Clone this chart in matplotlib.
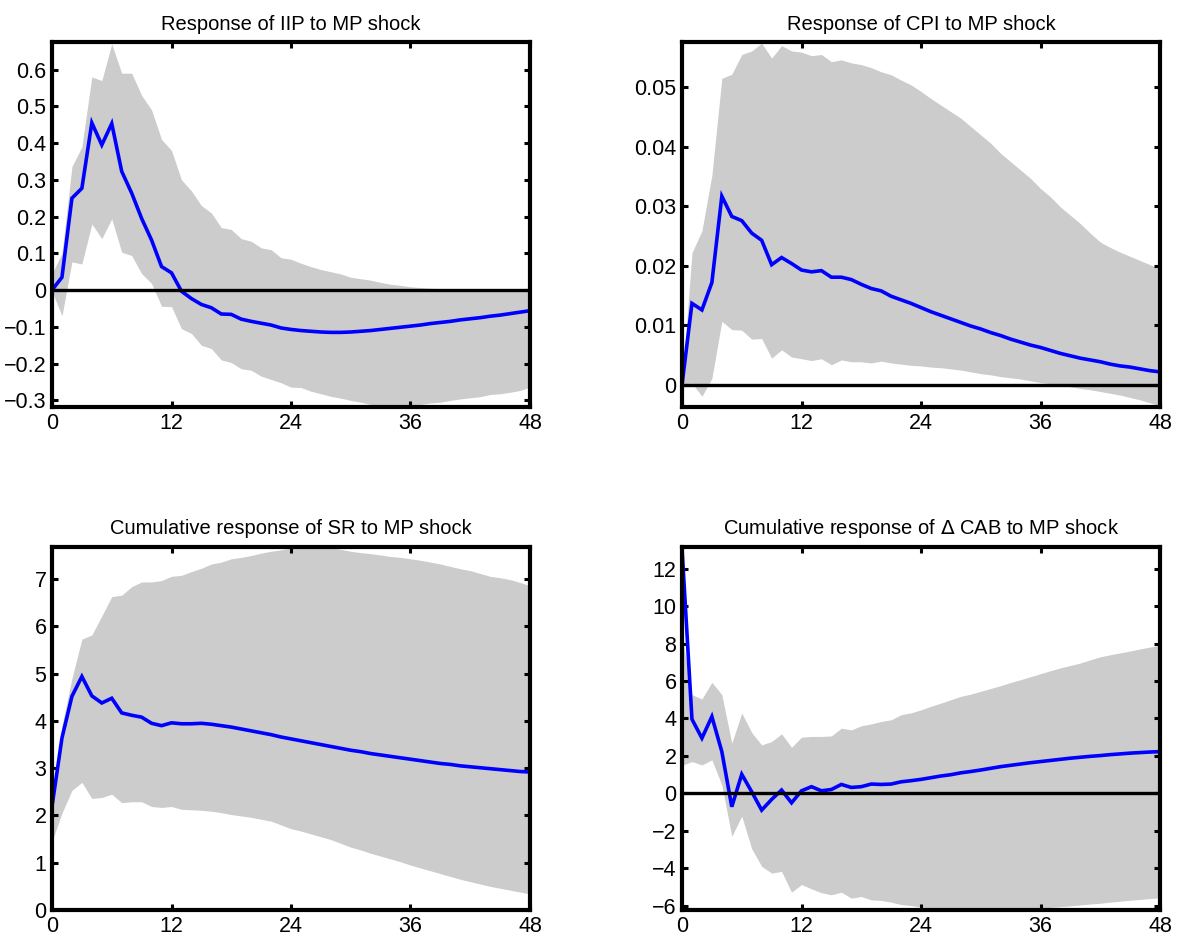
import matplotlib
matplotlib.use('AGG')
import matplotlib.pyplot as plt
from matplotlib.ticker import FuncFormatter

plt.rcParams['font.family'] = ['Liberation Sans', 'DejaVu Sans']

months = list(range(49))

# Response of IIP to MP shock
iip_mid = [0, 0.035, 0.25, 0.277, 0.455, 0.395, 0.453, 0.323, 0.264, 0.195,
           0.136, 0.064, 0.047, -0.003, -0.023, -0.039, -0.048, -0.065, -0.066, -0.079,
           -0.085, -0.09, -0.095, -0.103, -0.107, -0.110, -0.112, -0.114, -0.115, -0.115,
           -0.114, -0.112, -0.110, -0.107, -0.104, -0.101, -0.098, -0.095, -0.091, -0.088,
           -0.085, -0.081, -0.078, -0.075, -0.071, -0.068, -0.064, -0.060, -0.056]
iip_up = [0.045, 0.1, 0.336, 0.39, 0.58, 0.57, 0.67, 0.59, 0.59, 0.53,
          0.49, 0.41, 0.38, 0.30, 0.27, 0.23, 0.21, 0.17, 0.165, 0.14,
          0.133, 0.115, 0.11, 0.088, 0.084, 0.073, 0.064, 0.056, 0.05, 0.044,
          0.035, 0.031, 0.027, 0.021, 0.016, 0.013, 0.009, 0.007, 0.005, 0.004,
          0.002, 0.001, 0.001, 0.0, 0.0, -0.001, -0.001, -0.002, -0.002]
iip_lo = [-0.003, -0.07, 0.077, 0.071, 0.18, 0.14, 0.194, 0.103, 0.094, 0.045,
          0.018, -0.044, -0.045, -0.105, -0.118, -0.15, -0.159, -0.19, -0.197, -0.214,
          -0.218, -0.234, -0.243, -0.252, -0.264, -0.265, -0.275, -0.282, -0.289, -0.294,
          -0.3, -0.305, -0.311, -0.312, -0.315, -0.316, -0.315, -0.311, -0.307, -0.305,
          -0.3, -0.296, -0.293, -0.29, -0.284, -0.282, -0.278, -0.273, -0.264]

# Response of CPI to MP shock
cpi_mid = [0, 0.0137, 0.0126, 0.0172, 0.0317, 0.0283, 0.0276, 0.0255, 0.0243, 0.0202,
           0.0214, 0.0204, 0.0193, 0.019, 0.0192, 0.0181, 0.0181, 0.0177, 0.0169, 0.0162,
           0.0158, 0.0149, 0.0143, 0.0137, 0.0130, 0.0123, 0.0117, 0.0111, 0.0105, 0.0099,
           0.0094, 0.0088, 0.0083, 0.0077, 0.0072, 0.0067, 0.0063, 0.0058, 0.0053, 0.0049,
           0.0045, 0.0042, 0.0039, 0.0035, 0.0032, 0.0030, 0.0027, 0.0024, 0.0022]
cpi_up = [0.0, 0.0222, 0.0259, 0.0352, 0.0515, 0.0522, 0.0555, 0.0561, 0.0574, 0.0549,
          0.057, 0.0561, 0.0559, 0.0553, 0.0555, 0.0543, 0.0546, 0.0541, 0.0538, 0.0533,
          0.0526, 0.0521, 0.0512, 0.0504, 0.0493, 0.0481, 0.047, 0.0459, 0.0448, 0.0434,
          0.042, 0.0406, 0.0389, 0.0375, 0.0361, 0.0347, 0.033, 0.0316, 0.0299, 0.0285,
          0.0271, 0.0255, 0.024, 0.0231, 0.0223, 0.0216, 0.0209, 0.0202, 0.0195]
cpi_lo = [0.0, 0.0003, -0.0019, 0.0011, 0.0107, 0.0093, 0.0092, 0.0077, 0.0078, 0.0045,
          0.0059, 0.0047, 0.0044, 0.0041, 0.0044, 0.0034, 0.0042, 0.0039, 0.0039, 0.0037,
          0.0040, 0.0037, 0.0035, 0.0033, 0.0032, 0.0030, 0.0029, 0.0027, 0.0025, 0.0022,
          0.0019, 0.0017, 0.0014, 0.0012, 0.0010, 0.0007, 0.0004, 0.0002, 0.0, -0.0003,
          -0.0006, -0.0008, -0.0011, -0.0014, -0.0017, -0.0021, -0.0025, -0.003, -0.0035]

# Cumulative response of SR to MP shock
sr_mid = [2.19, 3.64, 4.52, 4.94, 4.53, 4.38, 4.48, 4.17, 4.12, 4.08,
          3.95, 3.90, 3.96, 3.94, 3.94, 3.95, 3.93, 3.90, 3.87, 3.83,
          3.79, 3.75, 3.71, 3.66, 3.62, 3.58, 3.54, 3.50, 3.46, 3.42,
          3.38, 3.35, 3.31, 3.28, 3.25, 3.22, 3.19, 3.16, 3.13, 3.10,
          3.08, 3.05, 3.03, 3.01, 2.99, 2.97, 2.95, 2.93, 2.92]
sr_up = [2.3, 3.9, 4.9, 5.73, 5.82, 6.22, 6.63, 6.66, 6.84, 6.94,
         6.94, 6.97, 7.06, 7.08, 7.16, 7.23, 7.32, 7.36, 7.43, 7.46,
         7.5, 7.55, 7.59, 7.62, 7.66, 7.69, 7.7, 7.69, 7.67, 7.63,
         7.59, 7.56, 7.54, 7.51, 7.48, 7.46, 7.43, 7.40, 7.36, 7.32,
         7.27, 7.22, 7.18, 7.12, 7.06, 7.03, 6.99, 6.93, 6.86]
sr_lo = [1.45, 2.05, 2.53, 2.7, 2.36, 2.38, 2.45, 2.27, 2.29, 2.29,
         2.19, 2.17, 2.19, 2.13, 2.12, 2.11, 2.09, 2.06, 2.02, 1.99,
         1.96, 1.92, 1.88, 1.80, 1.72, 1.67, 1.61, 1.55, 1.49, 1.41,
         1.33, 1.27, 1.2, 1.14, 1.08, 1.02, 0.95, 0.89, 0.83, 0.77,
         0.71, 0.65, 0.6, 0.55, 0.5, 0.46, 0.42, 0.38, 0.34]

# Cumulative response of delta CAB to MP shock
cab_mid = [13.1, 3.96, 2.95, 4.1, 2.23, -0.71, 1.02, 0.09, -0.89, -0.32,
           0.18, -0.5, 0.14, 0.36, 0.14, 0.21, 0.48, 0.32, 0.36, 0.5,
           0.48, 0.5, 0.62, 0.68, 0.75, 0.84, 0.93, 1.0, 1.1, 1.17,
           1.25, 1.34, 1.43, 1.5, 1.57, 1.64, 1.7, 1.76, 1.82, 1.88,
           1.93, 1.98, 2.02, 2.07, 2.11, 2.15, 2.18, 2.21, 2.23]
cab_up = [8.4, 5.27, 5.04, 5.93, 5.27, 2.68, 4.29, 3.25, 2.59, 2.77,
          3.18, 2.46, 3.0, 3.04, 3.04, 3.07, 3.48, 3.39, 3.61, 3.71,
          3.84, 3.93, 4.2, 4.3, 4.46, 4.65, 4.82, 5.0, 5.18, 5.3,
          5.45, 5.6, 5.75, 5.92, 6.07, 6.23, 6.39, 6.55, 6.7, 6.83,
          6.96, 7.13, 7.29, 7.4, 7.5, 7.6, 7.71, 7.81, 7.91]
cab_lo = [1.5, 1.7, 1.52, 1.79, 0.45, -2.29, -1.21, -2.95, -3.89, -4.25,
          -4.16, -5.27, -4.86, -5.09, -5.3, -5.41, -5.27, -5.59, -5.5, -5.68,
          -5.71, -5.8, -5.93, -5.98, -6.07, -6.12, -6.16, -6.19, -6.21, -6.23,
          -6.25, -6.23, -6.21, -6.19, -6.16, -6.14, -6.11, -6.08, -6.04, -6.0,
          -5.95, -5.9, -5.86, -5.8, -5.75, -5.7, -5.66, -5.61, -5.57]

x_ticks = [0, 12, 24, 36, 48]

W, H = 1180, 941
fig = plt.figure(figsize=(W / 100, H / 100), dpi=100)


def px_axes(left, top, right, bottom):
    return fig.add_axes([left / W, 1 - bottom / H, (right - left) / W, (bottom - top) / H])


panels = [
    ('Response of IIP to MP shock', iip_mid, iip_up, iip_lo,
     (-0.318, 0.675), [-0.3, -0.2, -0.1, 0, 0.1, 0.2, 0.3, 0.4, 0.5, 0.6], (52, 42, 530, 407)),
    ('Response of CPI to MP shock', cpi_mid, cpi_up, cpi_lo,
     (-0.0037, 0.0576), [0, 0.01, 0.02, 0.03, 0.04, 0.05], (682, 42, 1160, 407)),
    ('Cumulative response of SR to MP shock', sr_mid, sr_up, sr_lo,
     (0, 7.68), [0, 1, 2, 3, 4, 5, 6, 7], (52, 547, 530, 910)),
    ('Cumulative response of $\\Delta$ CAB to MP shock', cab_mid, cab_up, cab_lo,
     (-6.22, 13.15), [-6, -4, -2, 0, 2, 4, 6, 8, 10, 12], (682, 547, 1160, 910)),
]

for title, mid, up, lo, ylim, yticks, box in panels:
    ax = px_axes(*box)
    ax.fill_between(months, lo, up, color='#cccccc', linewidth=0)
    ax.plot(months, mid, color='#0000ff', linewidth=2.6, solid_joinstyle='miter')
    ax.axhline(0, color='black', linewidth=2.4)
    ax.set_xlim(0, 48)
    ax.set_ylim(*ylim)
    ax.set_xticks(x_ticks)
    ax.set_yticks(yticks)
    ax.yaxis.set_major_formatter(FuncFormatter(lambda v, p: ('%g' % round(v, 4)).replace('-', '\u2212')))
    ax.tick_params(direction='in', length=4, width=2.2, labelsize=15.5,
                   top=True, right=True, pad=4)
    for s in ax.spines.values():
        s.set_linewidth(3.0)
    ax.set_title(title, fontsize=14.5, pad=9)

plt.savefig('out.png', dpi=100)
